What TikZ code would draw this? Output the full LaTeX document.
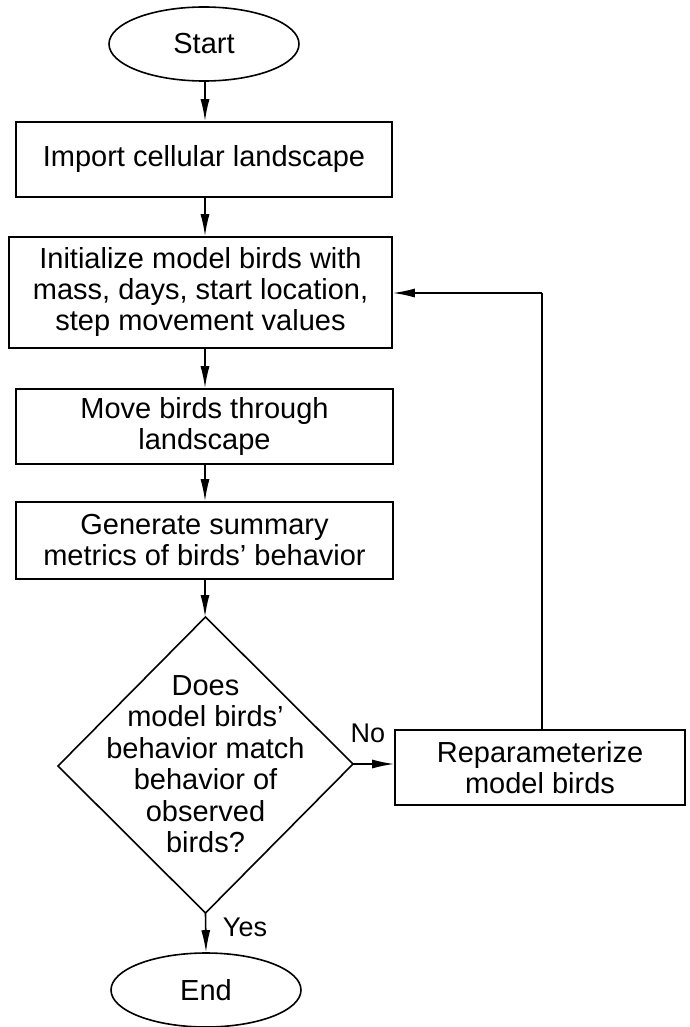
\documentclass[tikz,border=0pt]{standalone}
\usepackage{fontspec}
\setmainfont{Liberation Sans}
\usetikzlibrary{arrows.meta,shapes.geometric}
\begin{document}
\begin{tikzpicture}[x=1pt,y=-1pt,
  every node/.style={font=\fontsize{29}{31}\selectfont, align=center, inner sep=0pt},
  procbox/.style={draw=black, line width=1.6pt, rectangle},
  term/.style={draw=black, line width=1.6pt, ellipse, minimum width=190pt, minimum height=74pt},
  conn/.style={line width=1.6pt, -{Latex[length=22pt,width=9pt]}},
  lbl/.style={font=\fontsize{27}{28}\selectfont}
]
\useasboundingbox (0,0) rectangle (689,1027);

\node[term] (start) at (204,44) {Start};
\node[procbox, minimum width=376pt, minimum height=75pt] (b1) at (204,159.5) {Import cellular landscape};
\node[procbox, minimum width=383pt, minimum height=111pt] (b2) at (200.5,292.5) {Initialize model birds with\\mass, days, start location,\\step movement values};
\node[procbox, minimum width=377pt, minimum height=75pt] (b3) at (204.5,426.5) {Move birds through\\landscape};
\node[procbox, minimum width=377pt, minimum height=77pt] (b4) at (204.5,540.5) {Generate summary\\metrics of birds’ behavior};

% decision diamond
\coordinate (dtop) at (205.5,617);
\coordinate (dright) at (353,764);
\coordinate (dbot) at (205.5,913);
\coordinate (dleft) at (58,766);
\draw[line width=1.6pt, line join=miter] (dtop) -- (dright) -- (dbot) -- (dleft) -- cycle;
\node[font=\fontsize{29}{31.5}\selectfont] (dtext) at (205.5,764) {Does\\model birds’\\behavior match\\behavior of\\observed\\birds?};

\node[procbox, minimum width=290pt, minimum height=75pt] (rep) at (540,767.5) {Reparameterize\\model birds};
\node[term] (end) at (206,990) {End};

\node[lbl] (no) at (368,733) {No};
\node[lbl] (yes) at (245,927) {Yes};

\coordinate (loopcorner) at (542,293);

\draw[conn] (start.south -| 205,0) -- (205,0 |- b1.north);
\draw[conn] (205,0 |- b1.south) -- (205,0 |- b2.north);
\draw[conn] (205,0 |- b2.south) -- (205,0 |- b3.north);
\draw[conn] (205,0 |- b3.south) -- (205,0 |- b4.north);
\draw[conn] (205,0 |- b4.south) -- (205,0 |- dtop);
\draw[conn] (dright) -- (rep.west |- dright);
\draw[conn] (dbot) -- (end.north);
\draw[line width=1.6pt] (rep.north -| loopcorner) -- (loopcorner);
\draw[conn] (loopcorner) -- (b2.east |- loopcorner);
\end{tikzpicture}
\end{document}
